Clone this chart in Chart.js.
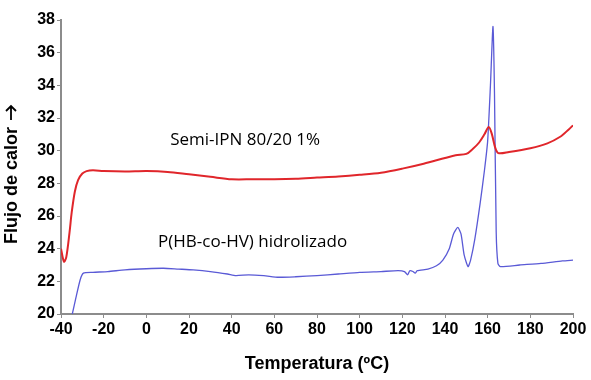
<!DOCTYPE html>
<html>
<head>
<meta charset="utf-8">
<script src="https://cdn.jsdelivr.net/npm/chart.js@4.4.0/dist/chart.umd.min.js"></script>
<style>
    html, body { margin: 0; padding: 0; background: #FFFFFF; }
    #wrap { width: 591px; height: 380px; position: relative; }
</style>
</head>
<body>
<div id="wrap"><canvas id="dsc-chart"></canvas></div>
<script>
"use strict";

// Semi-IPN 80/20 1% (red curve)
const tempSemiIPN = [-40, -38.6, -37.5, -36, -35, -33.5, -32, -30, -28, -25, -20, -10, 0, 10, 20, 30, 40, 50, 60, 70,
    80, 90, 100, 110, 120, 130, 140, 145, 150, 153, 156, 158.5, 160.5, 162, 163.5, 165, 170, 180, 188, 194, 198, 200];
const flujoSemiIPN = [24.0, 23.2, 23.5, 25.0, 26.2, 27.5, 28.2, 28.6, 28.75, 28.8, 28.75, 28.72, 28.75, 28.7, 28.55, 28.4, 28.25, 28.25, 28.25, 28.28,
    28.35, 28.42, 28.52, 28.65, 28.9, 29.2, 29.55, 29.72, 29.8, 30.1, 30.5, 31.0, 31.45, 31.0, 30.2, 29.85, 29.92, 30.15, 30.45, 30.85, 31.3, 31.55];

// P(HB-co-HV) hidrolizado (blue curve)
const tempPHB = [-34.7, -33, -31, -29.5, -25, -18, -10, 0, 8, 15, 22, 30, 38, 42, 48, 55, 62, 70, 80, 90,
    100, 110, 118, 121, 122.5, 123.5, 125, 126, 127, 132, 136, 139, 142, 144, 146, 147.5, 149, 150.8, 152, 154,
    156.5, 158.5, 160, 161.3, 162.5, 163.2, 164, 164.8, 166, 175, 185, 195, 200];
const flujoPHB = [20.0, 21.0, 22.1, 22.5, 22.55, 22.6, 22.7, 22.77, 22.8, 22.75, 22.7, 22.6, 22.45, 22.35, 22.4, 22.35, 22.25, 22.28, 22.35, 22.45,
    22.55, 22.6, 22.65, 22.6, 22.4, 22.65, 22.6, 22.5, 22.65, 22.75, 22.95, 23.3, 24.0, 24.9, 25.3, 24.9, 23.6, 22.9, 23.3, 24.6,
    26.8, 28.8, 30.6, 34.0, 37.6, 33.5, 25.0, 23.1, 22.9, 23.0, 23.1, 23.25, 23.3];

const xTicks = [-40, -20, 0, 20, 40, 60, 80, 100, 120, 140, 160, 180, 200];
const yTicks = [20, 22, 24, 26, 28, 30, 32, 34, 36, 38];

// text labels placed in data coordinates (left / middle anchor)
const curveLabels = [
    { text: 'Semi-IPN 80/20 1%', x: 11.2, y: 30.67 },
    { text: 'P(HB-co-HV) hidrolizado', x: 5.5, y: 24.4 }
];

const toPoints = (xs, ys) => xs.map((x, i) => ({ x: x, y: ys[i] }));

const axisColor = '#8C8C8C';
const arialBold = '"Liberation Sans", Arial, sans-serif';
const tickFont = { family: arialBold, size: 16, weight: 'bold' };

// draws the curve names inside the plot
const curveLabelPlugin = {
    id: 'curveLabels',
    afterDatasetsDraw(chart) {
        const ctx = chart.ctx;
        const xs = chart.scales.x;
        const ys = chart.scales.y;
        ctx.save();
        ctx.fillStyle = '#000000';
        ctx.font = '17px "Open Sans", sans-serif';
        ctx.textAlign = 'left';
        ctx.textBaseline = 'middle';
        curveLabels.forEach(lbl => {
            ctx.fillText(lbl.text, xs.getPixelForValue(lbl.x), ys.getPixelForValue(lbl.y));
        });
        ctx.restore();
    }
};

// y axis title drawn by hand, with a long open arrow after the words
const yTitlePlugin = {
    id: 'yTitle',
    afterDraw(chart) {
        const ctx = chart.ctx;
        const words = 'Flujo de calor';
        const gap = 7;
        const arrowLen = 14;
        ctx.save();
        ctx.translate(12, 175);
        ctx.rotate(-Math.PI / 2);
        ctx.fillStyle = '#000000';
        ctx.strokeStyle = '#000000';
        ctx.textBaseline = 'middle';
        ctx.textAlign = 'left';
        ctx.font = 'bold 18px ' + arialBold;
        const w1 = ctx.measureText(words).width;
        const x = -(w1 + gap + arrowLen) / 2;
        ctx.fillText(words, x, 0);

        // arrow
        const ax = x + w1 + gap;
        ctx.lineWidth = 1.8;
        ctx.beginPath();
        ctx.moveTo(ax, -1);
        ctx.lineTo(ax + arrowLen, -1);
        ctx.moveTo(ax + arrowLen - 5, -6);
        ctx.lineTo(ax + arrowLen, -1);
        ctx.lineTo(ax + arrowLen - 5, 4);
        ctx.stroke();
        ctx.restore();
    }
};

const ctx = document.getElementById('dsc-chart').getContext('2d');

new Chart(ctx, {
    type: 'line',
    data: {
        datasets: [
            {
                label: 'Semi-IPN 80/20 1%',
                data: toPoints(tempSemiIPN, flujoSemiIPN),
                borderColor: '#E0262B',
                borderWidth: 2,
                pointRadius: 0,
                tension: 0.3,
                fill: false
            },
            {
                label: 'P(HB-co-HV) hidrolizado',
                data: toPoints(tempPHB, flujoPHB),
                borderColor: '#5A5AD6',
                borderWidth: 1.3,
                pointRadius: 0,
                tension: 0.2,
                fill: false
            }
        ]
    },
    options: {
        responsive: true,
        maintainAspectRatio: false,
        animation: false,
        layout: {
            padding: { top: 20, right: 18, left: 0, bottom: 0 }
        },
        plugins: {
            legend: { display: false },
            tooltip: { enabled: false }
        },
        scales: {
            x: {
                type: 'linear',
                min: -40,
                max: 200,
                afterBuildTicks: scale => {
                    scale.ticks = xTicks.map(v => ({ value: v }));
                },
                afterFit: scale => {
                    scale.height = 66;
                },
                ticks: {
                    font: tickFont,
                    color: '#000000',
                    padding: 2,
                    maxRotation: 0,
                    autoSkip: false
                },
                grid: {
                    drawOnChartArea: false,
                    drawTicks: true,
                    tickLength: 4,
                    color: axisColor
                },
                border: { color: axisColor, width: 2 },
                title: {
                    display: true,
                    text: 'Temperatura (ºC)',
                    font: { family: arialBold, size: 18, weight: 'bold' },
                    color: '#000000',
                    padding: { top: 6, bottom: 5 }
                }
            },
            y: {
                type: 'linear',
                min: 20,
                max: 38,
                afterBuildTicks: scale => {
                    scale.ticks = yTicks.map(v => ({ value: v }));
                },
                afterFit: scale => {
                    scale.width = 61;
                },
                ticks: {
                    font: tickFont,
                    color: '#000000',
                    padding: 2
                },
                grid: {
                    drawOnChartArea: false,
                    drawTicks: true,
                    tickLength: 4,
                    color: axisColor
                },
                border: { color: axisColor, width: 2 },
                title: { display: false }
            }
        }
    },
    plugins: [curveLabelPlugin, yTitlePlugin]
});
</script>
</body>
</html>
